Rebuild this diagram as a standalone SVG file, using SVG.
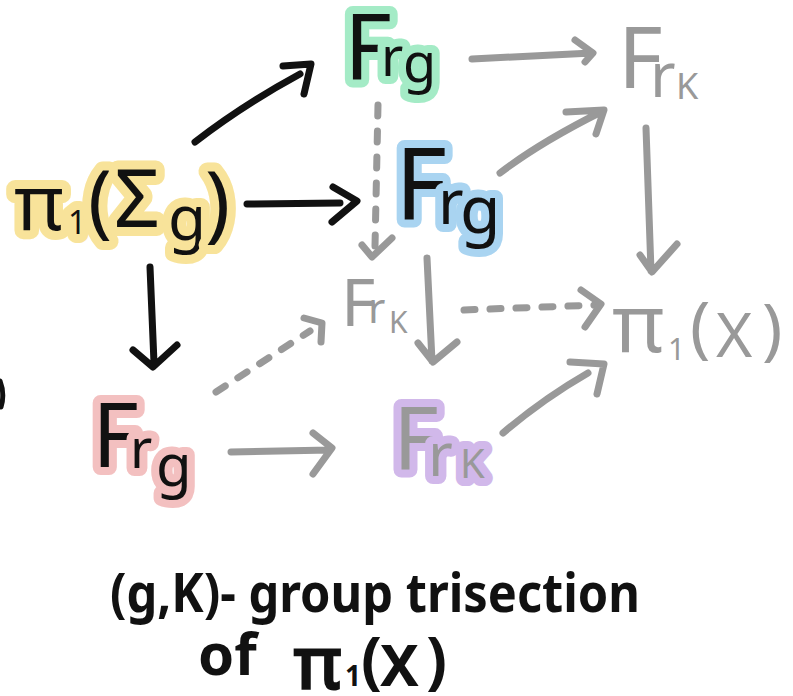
<svg xmlns="http://www.w3.org/2000/svg" width="793" height="696" viewBox="0 0 793 696">
<style>
text { font-family: "Noto Sans", "DejaVu Sans", sans-serif; }
.ink { fill: #111; }
.gray { fill: #999; }
.hl { paint-order: stroke; stroke-linejoin: round; stroke-width: 16; }
.yel { stroke: #f8e39a; stroke-width: 18; }
.grn { stroke: #a4ebc6; }
.blu { stroke: #a9d4f1; }
.pnk { stroke: #f3c0c0; }
.pur { stroke: #d1b8ea; }
.cap { fill: #111; font-weight: bold; }
.blk { fill: none; stroke: #111; stroke-width: 7; stroke-linecap: round; stroke-linejoin: round; }
.gry { fill: none; stroke: #999; stroke-width: 7; stroke-linecap: round; stroke-linejoin: round; }
.dsh { stroke-dasharray: 11 15; }
</style>
<rect width="793" height="696" fill="#fff"/>

<g id="connectors">
  <path class="blk" d="M195,142 C230,115 265,93 300,74 M283,66 L311,64 L304,94"/>
  <path class="blk" d="M247,204 L340,203 M333,187 L357,201 L332,222"/>
  <path class="blk" d="M150,267 L154,363 M133,350 L153,367 L177,345"/>
  <path class="gry" d="M472,59 L592,53 M575,40 L593,53 L585,62"/>
  <path class="gry" d="M500,173 C530,150 565,130 601,112 M566,112 L604,110 L596,134"/>
  <path class="gry" d="M646,128 L651,271 M640,255 L652,272 L677,244"/>
  <path class="gry dsh" d="M378,105 L375,246"/>
  <path class="gry" d="M362,245 L372,257 L392,238"/>
  <path class="gry" d="M427,258 L432,361 M418,343 L433,362 L457,342"/>
  <path class="gry dsh" d="M464,310 L598,305"/>
  <path class="gry" d="M581,290 L601,304 L585,327"/>
  <path class="gry dsh" d="M216,392 L310,331"/>
  <path class="gry" d="M304,318 L322,323 L321,342"/>
  <path class="gry" d="M231,452 L330,450 M313,433 L332,448 L313,474"/>
  <path class="gry" d="M503,433 C530,410 555,392 588,373 M570,362 L604,364 L597,394"/>
  <path class="blk" d="M0,381 Q5,394 1,407" style="stroke-width:5"/>
</g>

<g id="pi1-sigma-g">
  <text class="ink hl yel"><tspan x="14" y="230" font-size="76">π</tspan><tspan x="68" y="234" font-size="32">1</tspan><tspan x="88" y="228" font-size="80">(</tspan><tspan x="114" y="227" font-size="80">Σ</tspan><tspan x="168" y="240" font-size="62">g</tspan><tspan x="205" y="232" font-size="84">)</tspan></text>
</g>

<g id="frg-top">
  <text class="ink hl grn"><tspan x="344" y="80" font-size="92">F</tspan><tspan x="381" y="76" font-size="54">r</tspan><tspan x="403" y="82" font-size="54">g</tspan></text>
</g>

<g id="frk-top">
  <text class="gray"><tspan x="618" y="88" font-size="86">F</tspan><tspan x="650" y="97" font-size="62">r</tspan><tspan x="676" y="99" font-size="36">K</tspan></text>
</g>

<g id="frg-mid">
  <text class="ink hl blu"><tspan x="395" y="220" font-size="100">F</tspan><tspan x="438" y="224" font-size="62">r</tspan><tspan x="460" y="233" font-size="66">g</tspan></text>
</g>

<g id="frk-mid">
  <text class="gray"><tspan x="341" y="326" font-size="66">F</tspan><tspan x="368" y="323" font-size="42">r</tspan><tspan x="389" y="333" font-size="30">K</tspan></text>
</g>

<g id="pi1-x">
  <text class="gray"><tspan x="612" y="352" font-size="80">π</tspan><tspan x="668" y="360" font-size="30">1</tspan><tspan x="690" y="350" font-size="68">(</tspan><tspan x="716" y="357" font-size="62">X</tspan><tspan x="762" y="352" font-size="68">)</tspan></text>
</g>

<g id="frg-bottom">
  <text class="ink hl pnk"><tspan x="92" y="467" font-size="90">F</tspan><tspan x="130" y="468" font-size="54">r</tspan><tspan x="156" y="486" font-size="58">g</tspan></text>
</g>

<g id="frk-bottom">
  <text class="gray hl pur"><tspan x="393" y="470" font-size="88">F</tspan><tspan x="428" y="476" font-size="60">r</tspan><tspan x="460" y="478" font-size="40">K</tspan></text>
</g>

<g id="caption">
  <text class="cap" x="110" y="612" font-size="54" textLength="530" lengthAdjust="spacingAndGlyphs">(g,K)- group trisection</text>
  <text class="cap"><tspan x="198" y="675" font-size="58">of</tspan><tspan x="294" y="688" font-size="72" font-weight="normal" stroke="#111" stroke-width="3">π</tspan><tspan x="345" y="686" font-size="28">1</tspan><tspan x="361" y="682" font-size="62">(</tspan><tspan x="380" y="686" font-size="58">X</tspan><tspan x="426" y="682" font-size="62">)</tspan></text>
</g>
</svg>
